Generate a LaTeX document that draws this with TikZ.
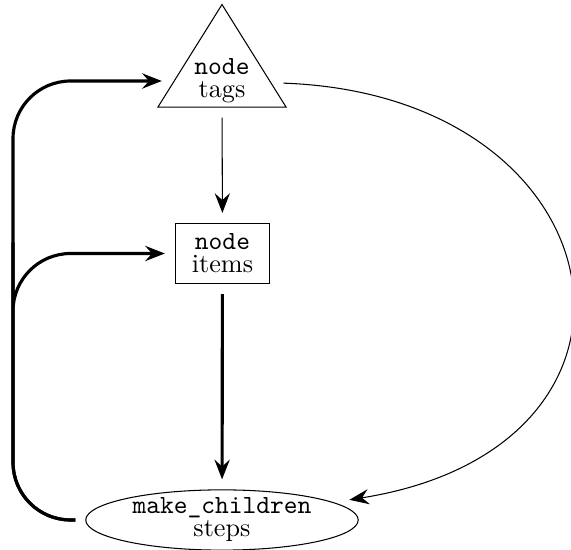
\documentclass[tikz,border=0pt]{standalone}
\usetikzlibrary{shapes.geometric, arrows.meta}
\begin{document}
\begin{tikzpicture}[x=0.3817pt, y=0.3817pt,
  every node/.style={align=center, outer sep=4pt},
  tri/.style={draw, isosceles triangle, shape border rotate=90,
    isosceles triangle apex angle=64, inner sep=1.5pt},
  box/.style={draw, rectangle, minimum width=36pt, minimum height=23pt, inner sep=1pt},
  oval/.style={draw, ellipse, minimum width=104pt, minimum height=23pt,
    inner xsep=0pt, inner ysep=-1.5pt},
  tip/.style={-{Stealth[length=7.5pt, width=5.8pt, inset=2.6pt]}},
  thinlink/.style={tip, line width=0.4pt},
  thicklink/.style={tip, line width=1.2pt},
]
\useasboundingbox (0,0) rectangle (571,-550);

% the three nodes
\node[tri] (tags) at (222,-81) {\texttt{node}\\[-3.2pt]tags};
\node[box] (items) at (222.5,-253.5) {\texttt{node}\\[-3.2pt]items};
\node[oval] (steps) at (222,-520) {\texttt{make\_children}\\[-3.2pt]steps};

% left rail shared by the two feedback arrows
\coordinate (rail) at (13,-300);

% connectors
\draw[thinlink] (tags) -- (items);
\draw[thicklink] (items) -- (steps);
\draw[thinlink] (tags) to[out=-2, in=9, looseness=2.06] (steps);
\draw[thicklink, rounded corners=22pt] (steps) -| (rail) |- (tags);
\draw[thicklink, rounded corners=22pt] (steps) -| (rail) |- (items);
\end{tikzpicture}
\end{document}
